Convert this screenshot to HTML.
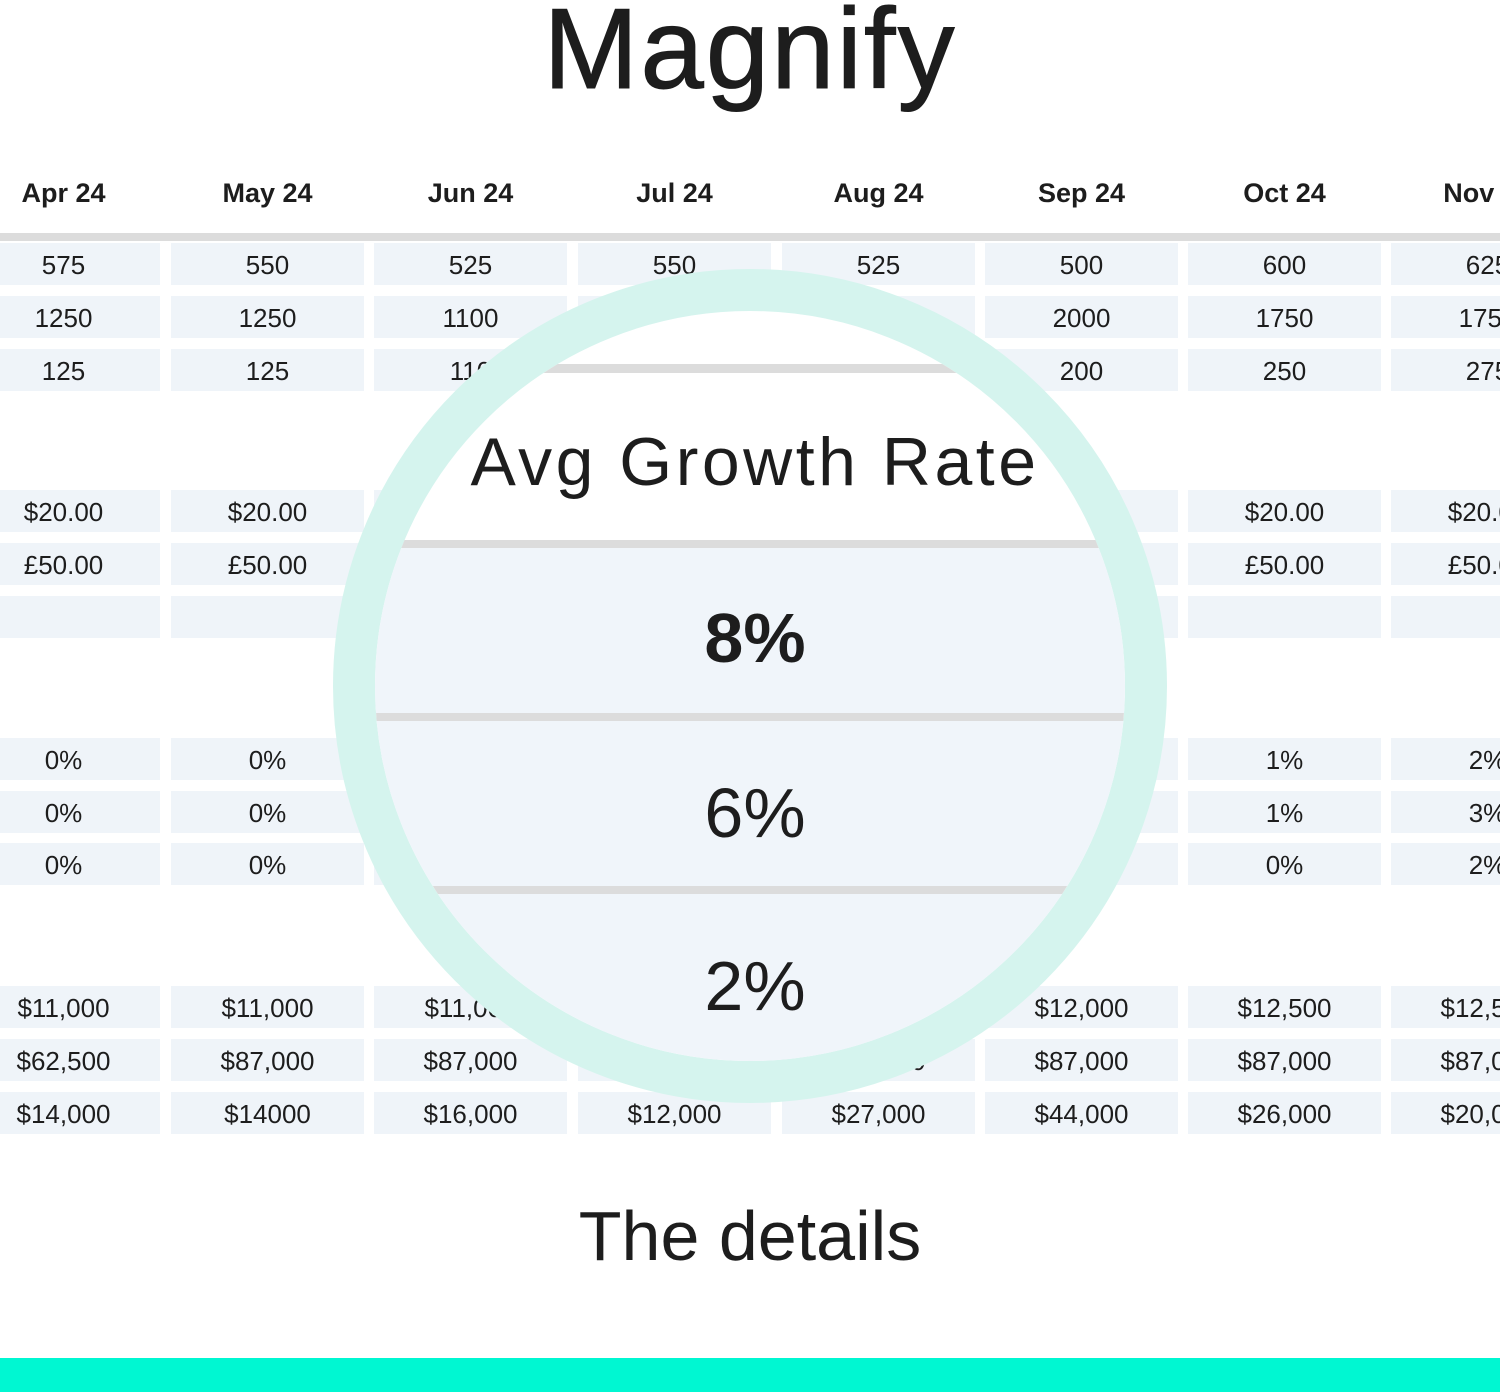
<!DOCTYPE html>
<html><head><style>
*{margin:0;padding:0;box-sizing:border-box}
body{width:1500px;height:1392px;background:#fff;position:relative;overflow:hidden;font-family:"Liberation Sans",sans-serif;color:#1d1d1d}
.t{position:absolute;white-space:nowrap;text-align:center}
.h{position:absolute;top:178px;font-weight:bold;font-size:27px;width:193px;text-align:center}
.c{position:absolute;width:193px;height:42px;background:#eff4f9;font-size:26px;line-height:44px;text-align:center;overflow:hidden;white-space:nowrap}
#ring{position:absolute;left:333px;top:269px;width:834px;height:834px;border:42px solid #d5f4ee;border-radius:50%;overflow:hidden;background:#fff}
#ring .in{position:absolute;left:0;width:750px}
</style></head><body>
<div class="t" style="left:0;width:1500px;top:-16px;font-size:114px;letter-spacing:2px;-webkit-text-stroke:1px #1d1d1d">Magnify</div>
<div style="position:absolute;left:0;top:233px;width:1500px;height:8px;background:#dcdcdc"></div>
<div id="cells"></div>
<script>
var xs=[-33,171,374,578,782,985,1188,1391];
var hd=["Apr 24","May 24","Jun 24","Jul 24","Aug 24","Sep 24","Oct 24","Nov 24"];
var ys=[243,296,349,490,543,596,738,791,843,986,1039,1092];
var d=[
["575","550","525","550","525","500","600","625"],
["1250","1250","1100","1100","1500","2000","1750","1750"],
["125","125","110","110","150","200","250","275"],
["$20.00","$20.00","$20.00","$20.00","$20.00","$20.00","$20.00","$20.00"],
["£50.00","£50.00","£50.00","£50.00","£50.00","£50.00","£50.00","£50.00"],
["","","","","","","",""],
["0%","0%","0%","0%","0%","0%","1%","2%"],
["0%","0%","0%","0%","0%","0%","1%","3%"],
["0%","0%","0%","0%","0%","0%","0%","2%"],
["$11,000","$11,000","$11,000","$11,000","$12,000","$12,000","$12,500","$12,500"],
["$62,500","$87,000","$87,000","$87,000","$87,000","$87,000","$87,000","$87,000"],
["$14,000","$14000","$16,000","$12,000","$27,000","$44,000","$26,000","$20,000"]];
var h="";
for(var i=0;i<8;i++){
 var x=xs[i];
 h+='<div class="h" style="left:'+x+'px">'+hd[i]+'</div>';
 for(var r=0;r<12;r++){
  var left=i==0?0:x, w=i==0?160:193;
  h+='<div class="c" style="left:'+left+'px;width:'+w+'px;top:'+ys[r]+'px;text-align:left"><span style="display:inline-block;width:193px;margin-left:'+(i==0?-33:0)+'px;text-align:center">'+d[r][i]+'</span></div>';
 }
}
document.getElementById('cells').innerHTML=h;
</script>
<div id="ring">
 <div class="in" style="top:53px;height:9px;background:#dcdcdc"></div>
 <div class="in t" style="top:112px;font-size:68px;letter-spacing:3.5px;text-align:center;left:5px">Avg Growth Rate</div>
 <div class="in" style="top:229px;height:8px;background:#dcdcdc"></div>
 <div class="in" style="top:237px;height:165px;background:#f0f5fa"></div>
 <div class="in t" style="top:287px;font-size:70px;font-weight:bold;text-align:center;left:5px">8%</div>
 <div class="in" style="top:402px;height:8px;background:#dcdcdc"></div>
 <div class="in" style="top:410px;height:165px;background:#f0f5fa"></div>
 <div class="in t" style="top:462px;font-size:70px;text-align:center;left:5px">6%</div>
 <div class="in" style="top:575px;height:8px;background:#dcdcdc"></div>
 <div class="in" style="top:583px;height:200px;background:#f0f5fa"></div>
 <div class="in t" style="top:635px;font-size:70px;text-align:center;left:5px">2%</div>
</div>
<div class="t" style="left:0;width:1500px;top:1196px;font-size:70px">The details</div>
<div style="position:absolute;left:0;top:1358px;width:1500px;height:34px;background:#00f7d2"></div>
</body></html>
